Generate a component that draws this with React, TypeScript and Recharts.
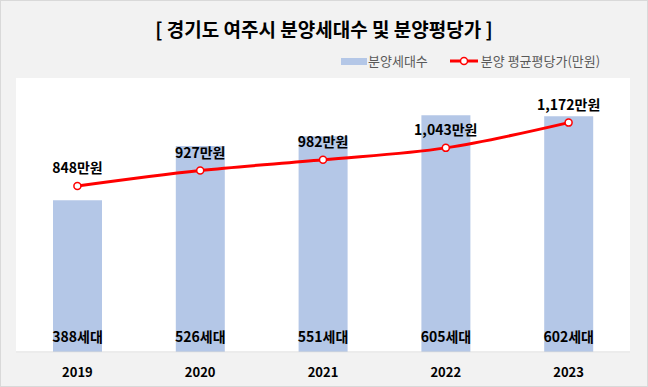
import { ComposedChart, Bar, Line, XAxis, YAxis, LabelList } from 'recharts'

const years = ['2019', '2020', '2021', '2022', '2023']
const households = [388, 526, 551, 605, 602]
const pricePerPyeong = [848, 927, 982, 1043, 1172]

const data = years.map((year, i) => ({
  year,
  households: households[i],
  price: pricePerPyeong[i],
}))

const FONT = '"Noto Sans CJK KR", "Noto Sans", sans-serif'

function LegendContent() {
  return (
    <div
      style={{
        position: 'absolute',
        top: 51,
        left: 340,
        display: 'flex',
        alignItems: 'center',
        fontFamily: FONT,
        fontSize: 13,
        color: '#595959',
        lineHeight: '18px',
      }}
    >
      <span style={{ display: 'inline-block', width: 26, height: 7, background: '#b4c7e7' }} />
      <span style={{ marginLeft: 1 }}>분양세대수</span>
      <svg width={28} height={10} style={{ marginLeft: 22 }}>
        <line x1={0} y1={5} x2={28} y2={5} stroke="#ff0000" strokeWidth={3} />
        <circle cx={14} cy={5} r={3.5} fill="#fff" stroke="#ff0000" strokeWidth={1.5} />
      </svg>
      <span style={{ marginLeft: 3 }}>분양 평균평당가(만원)</span>
    </div>
  )
}

export default function App() {
  return (
    <div
      style={{
        position: 'absolute',
        top: 0,
        left: 0,
        width: 648,
        height: 387,
        background: '#f2f2f2',
        border: '1px solid #d9d9d9',
        boxSizing: 'border-box',
        fontFamily: FONT,
      }}
    >
      <div
        style={{
          position: 'absolute',
          top: 15,
          left: 0,
          width: 646,
          textAlign: 'center',
          fontSize: 19,
          fontWeight: 700,
          color: '#000',
          lineHeight: '26px',
        }}
      >
        [ 경기도 여주시 분양세대수 및 분양평당가 ]
      </div>
      <LegendContent />
      <ComposedChart
        width={646}
        height={385}
        data={data}
        margin={{ top: 77, right: 17, left: 15, bottom: 4 }}
        style={{ position: 'absolute', top: 0, left: 0 }}
      >
        <rect x={15} y={77} width={614} height={275} fill="#fff" />
        <XAxis
          dataKey="year"
          height={30}
          tickLine={false}
          axisLine={{ stroke: '#d9d9d9' }}
          tick={{ fontSize: 13, fontWeight: 700, fill: '#000', fontFamily: FONT }}
          tickMargin={10}
        />
        <YAxis yAxisId="bar" hide domain={[0, 700]} />
        <YAxis yAxisId="line" hide domain={[0, 1400]} orientation="right" />
        <Bar yAxisId="bar" dataKey="households" fill="#b4c7e7" barSize={49} isAnimationActive={false}>
          <LabelList
            dataKey="households"
            position="insideBottom"
            offset={10}
            formatter={(v: number) => `${v}세대`}
            style={{ fontSize: 14, fontWeight: 700, fill: '#000', fontFamily: FONT }}
          />
        </Bar>
        <Line
          yAxisId="line"
          type="monotone"
          dataKey="price"
          stroke="#ff0000"
          strokeWidth={3}
          dot={{ r: 3.5, fill: '#fff', stroke: '#ff0000', strokeWidth: 1.5 }}
          isAnimationActive={false}
        >
          <LabelList
            dataKey="price"
            position="top"
            offset={13}
            formatter={(v: number) => `${v.toLocaleString()}만원`}
            style={{ fontSize: 14, fontWeight: 700, fill: '#000', fontFamily: FONT }}
          />
        </Line>
      </ComposedChart>
    </div>
  )
}
